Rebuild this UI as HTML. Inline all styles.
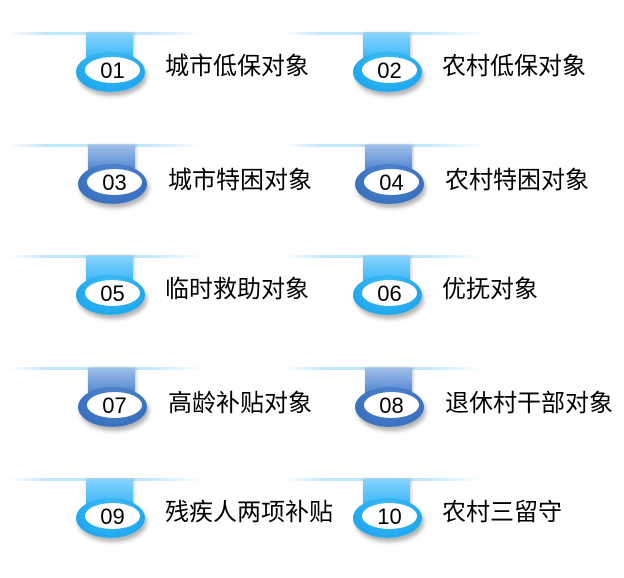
<!DOCTYPE html>
<html><head><meta charset="utf-8"><style>
body{margin:0;width:624px;height:566px;background:#fff;position:relative;overflow:hidden;font-family:"Liberation Sans","Noto Sans CJK SC",sans-serif}
.item{position:absolute;width:340px;height:100px}
.line{position:absolute;left:8px;top:0;width:197px;height:3px;background:linear-gradient(90deg,rgba(180,225,250,0),#bfe6fb 20%,#bfe6fb 70%,rgba(180,225,250,0))}
.stem{position:absolute;left:86px;top:1px;width:47px;height:28px;box-shadow:1px 0 3px rgba(0,0,0,.25)}
.ell{position:absolute;left:76px;top:20px;width:69px;height:40px;border-radius:50%;box-shadow:2px 4px 4px rgba(0,0,0,.3)}
.in{position:absolute;left:85px;top:25px;width:55px;height:26px;border-radius:50%;background:#fff;font-size:22px;line-height:27px;text-align:center;color:#000}
.c .stem{background:linear-gradient(#88d4ff,#35b4f4)}
.c .ell{background:radial-gradient(ellipse at 50% 30%,#45bdf7,#11a0ea)}
.b .stem{background:linear-gradient(#a0c0ea,#4a80cc)}
.b .ell{background:radial-gradient(ellipse at 50% 30%,#5288d2,#3068b8)}
.b .stem,.b .ell,.b .in{margin-left:2px}
.t{position:absolute;left:165px;top:14px;font-size:24px;color:#000;white-space:nowrap}
.b .t{left:168px;top:16px}
</style></head><body>
<div class="item c" style="left:0;top:32px"><div class="line"></div><div class="stem"></div><div class="ell"></div><div class="in">01</div><div class="t">城市低保对象</div></div>
<div class="item c" style="left:277px;top:32px"><div class="line"></div><div class="stem"></div><div class="ell"></div><div class="in">02</div><div class="t">农村低保对象</div></div>
<div class="item b" style="left:0;top:144px"><div class="line"></div><div class="stem"></div><div class="ell"></div><div class="in">03</div><div class="t">城市特困对象</div></div>
<div class="item b" style="left:277px;top:144px"><div class="line"></div><div class="stem"></div><div class="ell"></div><div class="in">04</div><div class="t">农村特困对象</div></div>
<div class="item c" style="left:0;top:255px"><div class="line"></div><div class="stem"></div><div class="ell"></div><div class="in">05</div><div class="t">临时救助对象</div></div>
<div class="item c" style="left:277px;top:255px"><div class="line"></div><div class="stem"></div><div class="ell"></div><div class="in">06</div><div class="t">优抚对象</div></div>
<div class="item b" style="left:0;top:367px"><div class="line"></div><div class="stem"></div><div class="ell"></div><div class="in">07</div><div class="t">高龄补贴对象</div></div>
<div class="item b" style="left:277px;top:367px"><div class="line"></div><div class="stem"></div><div class="ell"></div><div class="in">08</div><div class="t">退休村干部对象</div></div>
<div class="item c" style="left:0;top:478px"><div class="line"></div><div class="stem"></div><div class="ell"></div><div class="in">09</div><div class="t">残疾人两项补贴</div></div>
<div class="item c" style="left:277px;top:478px"><div class="line"></div><div class="stem"></div><div class="ell"></div><div class="in">10</div><div class="t">农村三留守</div></div>
</body></html>
